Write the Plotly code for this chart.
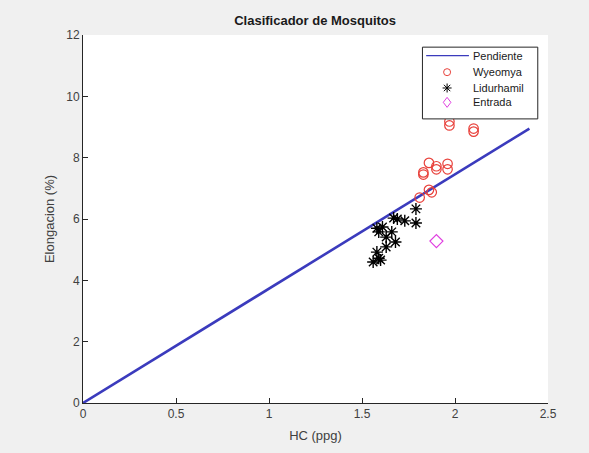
import plotly.graph_objects as go

# Data
line_x = [0, 2.4]
line_y = [0, 8.95]

wy_x = [1.97, 1.97, 2.10, 2.10, 1.86, 1.90, 1.96, 1.96, 1.90, 1.83, 1.83, 1.86, 1.875, 1.81]
wy_y = [9.05, 9.18, 8.85, 8.95, 7.83, 7.72, 7.8, 7.62, 7.62, 7.45, 7.52, 6.95, 6.87, 6.7]

li_x = [1.79, 1.79, 1.73, 1.69, 1.67, 1.61, 1.58, 1.59, 1.66, 1.63, 1.68, 1.63, 1.58, 1.59, 1.56, 1.60]
li_y = [6.33, 5.87, 5.94, 6.0, 6.03, 5.74, 5.7, 5.58, 5.58, 5.41, 5.25, 5.09, 4.92, 4.72, 4.6, 4.66]

en_x = [1.90]
en_y = [5.28]

series_names = ["Pendiente", "Wyeomya", "Lidurhamil", "Entrada"]

x_ticks = [0, 0.5, 1, 1.5, 2, 2.5]
x_tick_labels = ["0", "0.5", "1", "1.5", "2", "2.5"]
y_ticks = [0, 2, 4, 6, 8, 10, 12]
y_tick_labels = ["0", "2", "4", "6", "8", "10", "12"]

font_family = "Liberation Sans, Arial, sans-serif"
line_color = "#3b3bbd"
wy_color = "#e8403a"
li_color = "black"
en_color = "#e040e0"

fig = go.Figure()
fig.add_trace(go.Scatter(x=line_x, y=line_y, mode="lines", name=series_names[0],
                         line=dict(color=line_color, width=2.6)))
fig.add_trace(go.Scatter(x=wy_x, y=wy_y, mode="markers", name=series_names[1],
                         marker=dict(symbol="circle-open", color=wy_color, size=9.5,
                                     line=dict(width=1.2))))
fig.add_trace(go.Scatter(x=li_x, y=li_y, mode="markers", name=series_names[2],
                         marker=dict(symbol="asterisk-open", color=li_color, size=10,
                                     line=dict(width=1.4, color=li_color))))
fig.add_trace(go.Scatter(x=en_x, y=en_y, mode="markers", name=series_names[3],
                         marker=dict(symbol="diamond-open", color=en_color, size=10,
                                     line=dict(width=1.2))))

# ---- compact MATLAB-style legend box (plot-domain fractions) ----
lg_x0, lg_x1 = 0.730, 0.978
lg_y0, lg_y1 = 0.772, 0.967
sym_x = 0.783
txt_x = 0.835
rows = [0.944, 0.899, 0.856, 0.817]

shapes = [
    dict(type="rect", xref="x domain", yref="y domain", x0=lg_x0, x1=lg_x1, y0=lg_y0, y1=lg_y1,
         fillcolor="white", line=dict(color="#262626", width=1), layer="above"),
    dict(type="line", xref="x domain", yref="y domain", x0=0.738, x1=0.830, y0=rows[0], y1=rows[0],
         line=dict(color=line_color, width=1.3), layer="above"),
    dict(type="circle", xref="x domain", yref="y domain", xsizemode="pixel", ysizemode="pixel",
         xanchor=sym_x, yanchor=rows[1], x0=-3.5, x1=3.5, y0=-3.5, y1=3.5,
         line=dict(color=wy_color, width=1), layer="above"),
    dict(type="path", xref="x domain", yref="y domain", xsizemode="pixel", ysizemode="pixel",
         xanchor=sym_x, yanchor=rows[2],
         path="M0,-4.5L0,4.5M-4.5,0L4.5,0M-3.2,-3.2L3.2,3.2M-3.2,3.2L3.2,-3.2",
         line=dict(color=li_color, width=1), layer="above"),
    dict(type="path", xref="x domain", yref="y domain", xsizemode="pixel", ysizemode="pixel",
         xanchor=sym_x, yanchor=rows[3], path="M0,-5L3.8,0L0,5L-3.8,0Z",
         line=dict(color=en_color, width=1), layer="above"),
]
annotations = [
    dict(xref="x domain", yref="y domain", x=txt_x, y=r, text=name, showarrow=False,
         xanchor="left", yanchor="middle",
         font=dict(size=11, color="#1a1a1a", family=font_family))
    for name, r in zip(series_names, rows)
]

axis_common = dict(showgrid=False, zeroline=False, showline=True, linecolor="#262626",
                   linewidth=1, ticks="inside", ticklen=5, tickcolor="#262626",
                   tickfont=dict(size=12, color="#404040", family=font_family),
                   mirror=False)

fig.update_layout(
    width=589, height=453,
    paper_bgcolor="#f0f0f0", plot_bgcolor="white",
    margin=dict(l=83, r=41, t=35, b=50),
    title=dict(text="<b>Clasificador de Mosquitos</b>", x=0.535, xanchor="center",
               y=0.955, yanchor="middle",
               font=dict(size=13, color="#1a1a1a", family=font_family)),
    font=dict(family=font_family),
    xaxis=dict(range=[0, 2.5], tickvals=x_ticks, ticktext=x_tick_labels,
               title=dict(text="HC (ppg)", font=dict(size=13, color="#404040"), standoff=10),
               **axis_common),
    yaxis=dict(range=[0, 12], tickvals=y_ticks, ticktext=y_tick_labels,
               title=dict(text="Elongacion (%)", font=dict(size=13, color="#404040"), standoff=8),
               **axis_common),
    shapes=shapes,
    annotations=annotations,
    showlegend=False,
)

fig.write_html("out.html", config={"displayModeBar": False},
               post_script="document.body.style.margin='0';")
